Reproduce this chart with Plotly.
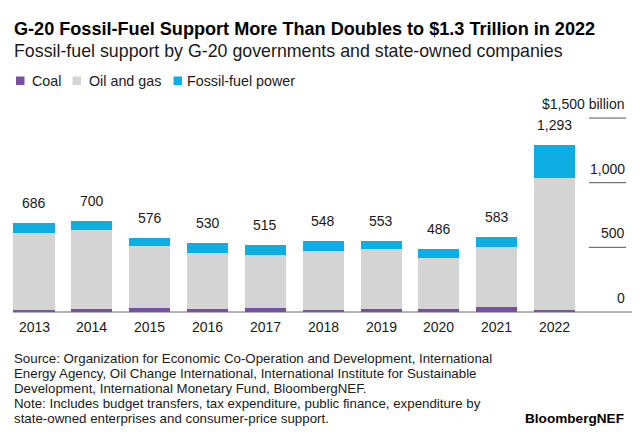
import plotly.graph_objects as go

years = ["2013", "2014", "2015", "2016", "2017", "2018", "2019", "2020", "2021", "2022"]
totals = [686, 700, 576, 530, 515, 548, 553, 486, 583, 1293]
total_labels = ["686", "700", "576", "530", "515", "548", "553", "486", "583", "1,293"]
coal = [15, 23, 30, 23, 33, 18, 23, 20, 39, 15]
oil_gas = [599, 610, 479, 437, 410, 450, 463, 399, 466, 1022]
power = [72, 67, 67, 70, 72, 80, 67, 67, 78, 256]
y_ticks = [0, 500, 1000, 1500]
y_tick_labels = ["0", "500", "1,000", "$1,500 billion"]

C_COAL = "#77519f"
C_OIL = "#d4d4d4"
C_POWER = "#0caee4"
TXT = "#1a1a1a"
FONT = "Liberation Sans, Arial, sans-serif"

W, H = 640, 438
# pixel calibration
X0_PX, STEP_PX = 34.0, 57.85
Y0_PX, PX_PER_UNIT = 312.0, 0.1293


def px2x(px):
    return (px - X0_PX) / STEP_PX


def py2paper(py):
    return 1 - py / H


xs = list(range(len(years)))

fig = go.Figure()
for name, vals, col in [("Coal", coal, C_COAL), ("Oil and gas", oil_gas, C_OIL), ("Fossil-fuel power", power, C_POWER)]:
    fig.add_trace(go.Bar(x=xs, y=vals, name=name, marker=dict(color=col, line=dict(width=0)),
                         width=0.71, showlegend=False, hoverinfo="skip"))

ann = []
shapes = []

# total labels
for x, t, lab in zip(xs, totals, total_labels):
    ann.append(dict(x=x, y=t, xref="x", yref="y", text=lab, showarrow=False,
                    yanchor="middle", yshift=20, font=dict(size=14, color=TXT, family=FONT)))
# year labels
for x, yl in zip(xs, years):
    ann.append(dict(x=x, y=0, xref="x", yref="y", text=yl, showarrow=False,
                    yanchor="middle", yshift=-15, font=dict(size=14, color=TXT, family=FONT)))

# baseline
shapes.append(dict(type="line", xref="x", yref="y", x0=px2x(13), x1=px2x(632), y0=0, y1=0,
                   line=dict(color="#6b6b6b", width=1)))
# right-side gridline stubs and labels
for v, lab in zip(y_ticks, y_tick_labels):
    if v > 0:
        shapes.append(dict(type="line", xref="x", yref="y", x0=px2x(589), x1=px2x(626), y0=v, y1=v,
                           line=dict(color="#555555", width=1)))
    ann.append(dict(x=px2x(627), y=v, xref="x", yref="y", text=lab, showarrow=False,
                    xanchor="right", yanchor="middle", yshift=14,
                    font=dict(size=14, color=TXT, family=FONT)))

# title & subtitle
ann.append(dict(x=12 / W, y=py2paper(29), xref="paper", yref="paper", xanchor="left", yanchor="middle",
                text="<b>G-20 Fossil-Fuel Support More Than Doubles to $1.3 Trillion in 2022</b>",
                showarrow=False, font=dict(size=18.1, color="#000000", family=FONT)))
ann.append(dict(x=12 / W, y=py2paper(51), xref="paper", yref="paper", xanchor="left", yanchor="middle",
                text="Fossil-fuel support by G-20 governments and state-owned companies",
                showarrow=False, font=dict(size=17.8, color=TXT, family=FONT)))

# legend
for name, col, sq_x, tx_x in [("Coal", C_COAL, 16, 30), ("Oil and gas", C_OIL, 72.5, 87),
                               ("Fossil-fuel power", C_POWER, 173.5, 185)]:
    shapes.append(dict(type="rect", xref="paper", yref="paper", x0=sq_x / W, x1=(sq_x + 8.5) / W,
                       y0=py2paper(85), y1=py2paper(76.5), fillcolor=col, line=dict(width=0)))
    ann.append(dict(x=tx_x / W, y=py2paper(81), xref="paper", yref="paper", xanchor="left", yanchor="middle",
                    text=name, showarrow=False, font=dict(size=14.3, color=TXT, family=FONT)))

# footer
footer = [
    "Source: Organization for Economic Co-Operation and Development, International",
    "Energy Agency, Oil Change International, International Institute for Sustainable",
    "Development, International Monetary Fund, BloombergNEF.",
    "Note: Includes budget transfers, tax expenditure, public finance, expenditure by",
    "state-owned enterprises and consumer-price support.",
]
for line, py in zip(footer, [358.3, 373.5, 388.3, 403.5, 418]):
    ann.append(dict(x=12 / W, y=py2paper(py), xref="paper", yref="paper", xanchor="left", yanchor="middle",
                    text=line, showarrow=False, font=dict(size=13.3, color=TXT, family=FONT)))
ann.append(dict(x=626 / W, y=py2paper(418), xref="paper", yref="paper", xanchor="right", yanchor="middle",
                text="<b>BloombergNEF</b>", showarrow=False, font=dict(size=13.6, color="#000000", family=FONT)))

fig.update_layout(
    width=W, height=H, autosize=False, barmode="stack", bargap=0,
    margin=dict(l=0, r=0, t=0, b=0),
    paper_bgcolor="white", plot_bgcolor="white",
    xaxis=dict(range=[px2x(0), px2x(W)], visible=False, fixedrange=True),
    yaxis=dict(range=[(Y0_PX - H) / PX_PER_UNIT, Y0_PX / PX_PER_UNIT], visible=False, fixedrange=True),
    annotations=ann, shapes=shapes, showlegend=False,
)
fig.write_html("out.html", config={"displayModeBar": False},
               post_script="document.body.style.margin='0';document.body.style.overflow='hidden';")
